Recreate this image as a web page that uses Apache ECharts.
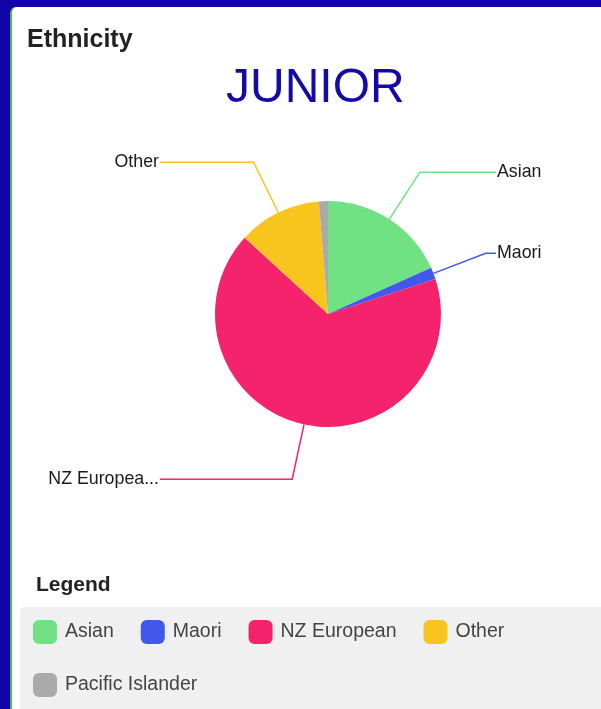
<!DOCTYPE html>
<html>
<head>
<meta charset="utf-8">
<script src="https://cdn.jsdelivr.net/npm/echarts@6/dist/echarts.min.js"></script>
<style>
html, body { margin: 0; padding: 0; width: 601px; height: 709px; overflow: hidden; background: #1203a8; }
#card { position: absolute; left: 10px; top: 7px; width: 620px; height: 720px; background: #fff;
        border-left: 2px solid #4cb848; border-top-left-radius: 6px; }
#chart { position: absolute; left: 0; top: 0; width: 601px; height: 709px; }
</style>
</head>
<body>
<div id="card"></div>
<div id="chart"></div>
<script>
// ethnicity split, in percent
const categories = ['Asian', 'Maori', 'NZ European', 'Other', 'Pacific Islander'];
const shares = [18.3, 1.7, 66.8, 11.9, 1.3];
const sliceLabels = ['Asian', 'Maori', 'NZ Europea...', 'Other', ''];

const palette = ['#70e284', '#4257ec', '#f4236b', '#f7c51e', '#aaaaaa'];
const font = '"Liberation Sans", Arial, sans-serif';

var myChart = echarts.init(document.getElementById('chart'));

const pieData = categories.map(function (name, i) {
    return {
        name: name,
        value: shares[i],
        label: { show: sliceLabels[i] !== '' },
        labelLine: { show: sliceLabels[i] !== '' }
    };
});

var option = {
    animation: false,
    color: palette,
    title: [
        {
            text: 'Ethnicity',
            left: 27, top: 28, padding: 0,
            textStyle: { fontFamily: font, fontSize: 25, fontWeight: 'bold', color: '#222' }
        },
        {
            text: 'JUNIOR',
            left: 226, top: 65, padding: 0,
            textStyle: { fontFamily: font, fontSize: 48, fontWeight: 'normal', color: '#140aa8' }
        }
    ],
    graphic: [
        {
            type: 'rect', left: 20, top: 607, z: 0,
            shape: { width: 600, height: 120, r: 4 },
            style: { fill: '#f0f0f0' }
        },
        {
            type: 'text', left: 36, top: 575, z: 1,
            style: { text: 'Legend', font: 'bold 21px ' + font, fill: '#222' }
        }
    ],
    legend: {
        data: categories,
        left: 33, top: 619, right: 10,
        padding: 0,
        icon: 'roundRect',
        itemWidth: 24, itemHeight: 24,
        itemGap: 27,
        selectedMode: false,
        textStyle: { fontFamily: font, fontSize: 19.5, color: '#444', lineHeight: 26, padding: [0, 0, 0, 3] }
    },
    series: [
        {
            type: 'pie',
            center: [328, 314],
            radius: 113,
            startAngle: 90,
            data: pieData,
            label: {
                formatter: function (p) { return sliceLabels[p.dataIndex]; },
                fontFamily: font, fontSize: 17.8, color: '#1a1a1a'
            },
            labelLine: { length: 56, length2: 20, lineStyle: { width: 1.5 } },
            labelLayout: function (params) {
                const pts = params.labelLinePoints;
                if (!pts) return {};
                const isLeft = pts[1][0] < pts[0][0];
                const endX = isLeft ? 160 : 496;
                return {
                    x: isLeft ? endX - 1 : endX + 1,
                    align: isLeft ? 'right' : 'left',
                    labelLinePoints: [pts[0], pts[1], [endX, pts[1][1]]]
                };
            },
            emphasis: { scale: false }
        }
    ]
};

option && myChart.setOption(option);
</script>
</body>
</html>
